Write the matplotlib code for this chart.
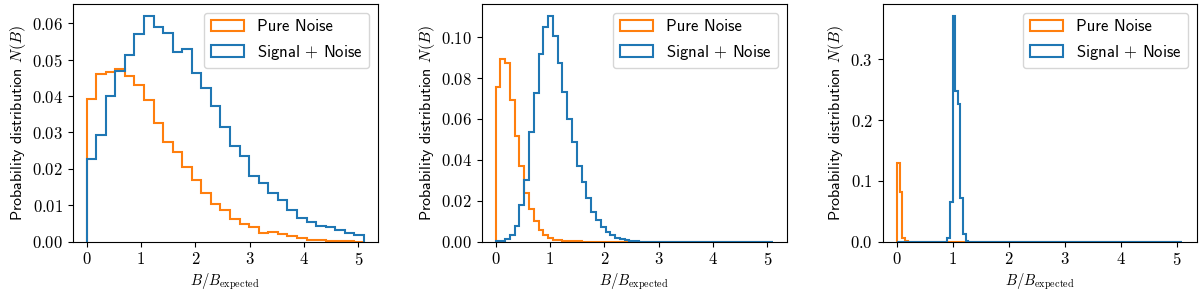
import numpy as np
import matplotlib as mpl
mpl.use('Agg')
import matplotlib.pyplot as plt
from matplotlib.ticker import FormatStrFormatter

# histogram range and bin counts of the three panels
b_max = 5.1
nbins = [29, 58, 108]

# panel 1 (probability per bin)
noise1 = [0.0391, 0.0460, 0.0467, 0.0475, 0.0455, 0.0431, 0.0390, 0.0325, 0.0274, 0.0245,
          0.0205, 0.0169, 0.0133, 0.0104, 0.0086, 0.0063, 0.0048, 0.0041, 0.0024, 0.0027,
          0.0022, 0.0016, 0.0009, 0.0006, 0.0004, 0.0003, 0.0002, 0.0003, 0.0]
signal1 = [0.0227, 0.0292, 0.0401, 0.0470, 0.0513, 0.0571, 0.0621, 0.0591, 0.0573, 0.0521,
           0.0528, 0.0463, 0.0421, 0.0373, 0.0314, 0.0262, 0.0234, 0.0181, 0.0161, 0.0134,
           0.0115, 0.0087, 0.0065, 0.0053, 0.0044, 0.0039, 0.0032, 0.0023, 0.0017]

# panel 2
noise2 = [0.0757, 0.0893, 0.0873, 0.0694, 0.0516, 0.0372, 0.0240, 0.0159, 0.0103, 0.0058,
          0.0033, 0.0019, 0.0010, 0.0007, 0.0005, 0.0002, 0.0002, 0.0001]
signal2 = [0.0001, 0.0002, 0.0012, 0.0033, 0.0078, 0.0178, 0.0302, 0.0534, 0.0726, 0.0919,
           0.1048, 0.1105, 0.1007, 0.0873, 0.0734, 0.0601, 0.0487, 0.0372, 0.0292, 0.0215,
           0.0147, 0.0106, 0.0073, 0.0049, 0.0031, 0.0018, 0.0012, 0.0007, 0.0005, 0.0003]

# panel 3
noise3 = [0.130, 0.0816, 0.0068, 0.0005]
signal3_start = 19
signal3 = [0.0056, 0.0657, 0.372, 0.248, 0.2266, 0.0722, 0.0125, 0.0015]

labels = ['Pure Noise', r'Signal $+$ Noise']


def pad(vals, n, start=0):
    out = np.zeros(n)
    out[start:start + len(vals)] = vals
    return out


panels = [
    (pad(noise1, nbins[0]), pad(signal1, nbins[0]), '%.2f'),
    (pad(noise2, nbins[1]), pad(signal2, nbins[1]), '%.2f'),
    (pad(noise3, nbins[2]), pad(signal3, nbins[2], signal3_start), '%.1f'),
]

mpl.rcParams['mathtext.fontset'] = 'cm'
mpl.rcParams['font.family'] = ['cmss10', 'DejaVu Sans']
mpl.rcParams['axes.unicode_minus'] = False
mpl.rcParams['font.size'] = 12

fig = plt.figure(figsize=(12, 2.9), dpi=100)
rects = [[0.0606, 0.1666, 0.2542, 0.8186],
         [0.4014, 0.1666, 0.2542, 0.8186],
         [0.7356, 0.1666, 0.2617, 0.8186]]

for i, (noise, signal, yfmt) in enumerate(panels):
    ax = fig.add_axes(rects[i])
    edges = np.linspace(0, b_max, nbins[i] + 1)
    ax.hist(edges[:-1], bins=edges, weights=noise, histtype='step',
            color='#ff7f0e', lw=1.5, label=labels[0])
    ax.hist(edges[:-1], bins=edges, weights=signal, histtype='step',
            color='#1f77b4', lw=1.5, label=labels[1])
    ax.set_xticks(range(6))
    ax.xaxis.set_major_formatter(FormatStrFormatter('$%d$'))
    ax.yaxis.set_major_formatter(FormatStrFormatter('$' + yfmt + '$'))
    ax.set_xlabel(r'$B/B_{\rm expected}$', fontsize=10.5, labelpad=2)
    ax.set_ylabel(r'Probability distribution $N(B)$', fontsize=11.5, labelpad=3)
    ax.legend(loc='upper right')

plt.savefig('out.png', dpi=100)
